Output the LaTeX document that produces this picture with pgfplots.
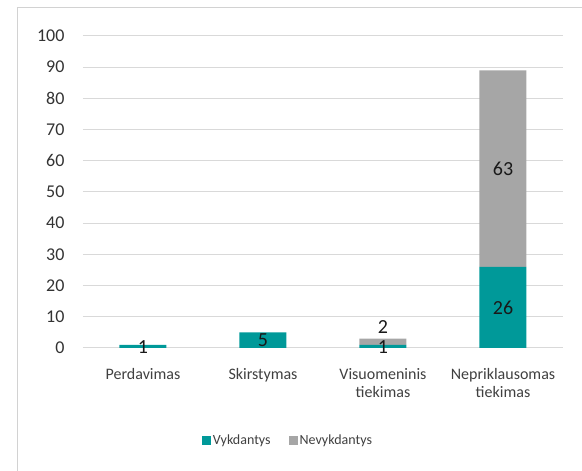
\documentclass[border=0pt]{standalone}
\usepackage{pgfplots}
\pgfplotsset{compat=1.18}
\usepackage{fontspec}
\setmainfont{Carlito}
\definecolor{tealbar}{HTML}{009999}
\definecolor{graybar}{HTML}{A6A6A6}
\definecolor{txt}{HTML}{404040}

\begin{document}
\begin{tikzpicture}
\path[use as bounding box] (-83pt,-123pt) rectangle (499pt,348pt);
\clip (-83pt,-123pt) rectangle (499pt,348pt);
\draw[gray!35, line width=1pt] (-65pt,-140pt) -- (-65pt,340pt) -- (520pt,340pt);
\begin{axis}[
  at={(0pt,0pt)}, anchor=south west,
  scale only axis,
  width=480pt, height=312pt,
  ybar stacked,
  bar width=47pt,
  xmin=-0.5, xmax=3.5,
  ymin=0, ymax=100,
  ytick={0,10,...,100},
  xtick={0,1,2,3},
  xticklabels={Perdavimas, Skirstymas, {Visuomeninis\\tiekimas}, {Nepriklausomas\\tiekimas}},
  x tick label style={align=center, font=\fontsize{16}{18}\selectfont, text=txt, yshift=-17pt},
  y tick label style={font=\fontsize{18}{20}\selectfont, text=black!80, xshift=-15pt},
  /pgf/number format/assume math mode=true,
  axis line style={draw=none},
  major tick style={draw=none},
  ymajorgrids,
  grid style={gray!30, line width=1pt},
  legend style={at={(0.427,-0.295)}, anchor=center, draw=none, legend columns=2,
    font=\fontsize{14}{16}\selectfont, text=txt,
    /tikz/every even column/.append style={column sep=16pt}},
  legend image code/.code={\fill[#1] (0pt,-4.5pt) rectangle (9pt,4.5pt);},
]
\addplot[fill=tealbar, draw=none] coordinates {(0,1) (1,5) (2,1) (3,26)};
\addplot[fill=graybar, draw=none] coordinates {(0,0) (1,0) (2,2) (3,63)};
\legend{Vykdantys, Nevykdantys}
\coordinate (l1) at (axis cs:0,0.3);
\coordinate (l2) at (axis cs:1,2.5);
\coordinate (l3) at (axis cs:2,0.3);
\coordinate (l4) at (axis cs:2,6.8);
\coordinate (l5) at (axis cs:3,13);
\coordinate (l6) at (axis cs:3,57.5);
\end{axis}
\foreach \c/\t in {l1/1, l2/5, l3/1, l4/2, l5/26, l6/63}
  \node[font=\fontsize{20}{22}\selectfont, text=black!90] at (\c) {\t};
\end{tikzpicture}
\end{document}
